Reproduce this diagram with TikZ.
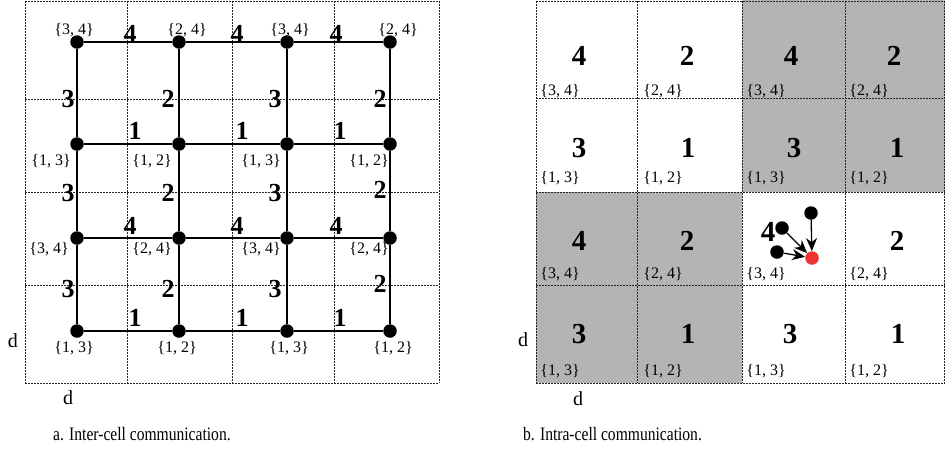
\documentclass[tikz,border=0pt]{standalone}
\usepackage{fontspec}
\setmainfont{Liberation Serif}
\usetikzlibrary{arrows.meta}
\definecolor{cellgray}{RGB}{180,180,180}
\definecolor{dotred}{RGB}{238,51,51}
\begin{document}
\begin{tikzpicture}[x=1pt,y=-1pt,
 grid/.style={line width=1pt, dash pattern=on 1.5pt off 1.5pt, black!85},
 dot/.style={circle,fill=black,inner sep=0pt,minimum size=13.5pt},
 reddot/.style={circle,fill=dotred,inner sep=0pt,minimum size=13.5pt},
 edge/.style={line width=2.7pt},
 elab/.style={font=\fontsize{26}{26}\selectfont\bfseries, inner sep=0pt},
 nlab/.style={font=\fontsize{16}{16}\selectfont, inner sep=0pt},
 clab/.style={font=\fontsize{29}{29}\selectfont\bfseries, inner sep=0pt},
 dlab/.style={font=\fontsize{20}{20}\selectfont, inner sep=0pt},
 caption/.style={font=\fontsize{19}{19}\selectfont, inner sep=0pt, anchor=west},
 arr/.style={line width=1.3pt, -{Stealth[length=13pt,width=11pt]}},
]
\useasboundingbox (0,0) rectangle (945,448);
\fill[white] (0,0) rectangle (945,448);

% ---------------- left panel grid
\foreach \x in {25,127,232,334,439} \draw[grid] (\x,1) -- (\x,383);
\foreach \y in {1,99,192,285,383} \draw[grid] (25,\y) -- (439,\y);

% nodes
\node[dot] (a11) at (77,42) {};
\node[dot] (a12) at (179,42) {};
\node[dot] (a13) at (287,42) {};
\node[dot] (a14) at (390,42) {};
\node[dot] (a21) at (77,144) {};
\node[dot] (a22) at (179,144) {};
\node[dot] (a23) at (287,144) {};
\node[dot] (a24) at (390,144) {};
\node[dot] (a31) at (77,238) {};
\node[dot] (a32) at (179,238) {};
\node[dot] (a33) at (287,238) {};
\node[dot] (a34) at (390,238) {};
\node[dot] (a41) at (77,331) {};
\node[dot] (a42) at (179,331) {};
\node[dot] (a43) at (287,331) {};
\node[dot] (a44) at (390,331) {};

% edges
\foreach \r in {1,2,3,4}{
  \draw[edge] (a\r1) -- (a\r2);
  \draw[edge] (a\r2) -- (a\r3);
  \draw[edge] (a\r3) -- (a\r4);
}
\foreach \c in {1,2,3,4}{
  \draw[edge] (a1\c) -- (a2\c);
  \draw[edge] (a2\c) -- (a3\c);
  \draw[edge] (a3\c) -- (a4\c);
}

% edge labels
\node[elab] (h11) at (130,34) {4};
\node[elab] (h12) at (237,34) {4};
\node[elab] (h13) at (336,34) {4};
\node[elab] (h21) at (135,131) {1};
\node[elab] (h22) at (242,131) {1};
\node[elab] (h23) at (340,131) {1};
\node[elab] (h31) at (130,226) {4};
\node[elab] (h32) at (237,226) {4};
\node[elab] (h33) at (336,226) {4};
\node[elab] (h41) at (135,318) {1};
\node[elab] (h42) at (242,318) {1};
\node[elab] (h43) at (340,318) {1};

\node[elab] (v11) at (68,99) {3};
\node[elab] (v12) at (168,99) {2};
\node[elab] (v13) at (275,99) {3};
\node[elab] (v14) at (380,99) {2};
\node[elab] (v21) at (68,193) {3};
\node[elab] (v22) at (168,193) {2};
\node[elab] (v23) at (275,193) {3};
\node[elab] (v24) at (380,190) {2};
\node[elab] (v31) at (68,289) {3};
\node[elab] (v32) at (168,289) {2};
\node[elab] (v33) at (275,289) {3};
\node[elab] (v34) at (380,284) {2};

% node labels
\node[nlab] (l11) at (74,30) {\{3, 4\}};
\node[nlab] (l12) at (187,30) {\{2, 4\}};
\node[nlab] (l13) at (290,30) {\{3, 4\}};
\node[nlab] (l14) at (398,30) {\{2, 4\}};
\node[nlab] (l21) at (51,161) {\{1, 3\}};
\node[nlab] (l22) at (152,161) {\{1, 2\}};
\node[nlab] (l23) at (261,161) {\{1, 3\}};
\node[nlab] (l24) at (369,161) {\{1, 2\}};
\node[nlab] (l31) at (49,249) {\{3, 4\}};
\node[nlab] (l32) at (152,249) {\{2, 4\}};
\node[nlab] (l33) at (261,249) {\{3, 4\}};
\node[nlab] (l34) at (369,249) {\{2, 4\}};
\node[nlab] (l41) at (74,348) {\{1, 3\}};
\node[nlab] (l42) at (177,348) {\{1, 2\}};
\node[nlab] (l43) at (289,348) {\{1, 3\}};
\node[nlab] (l44) at (393,348) {\{1, 2\}};

\node[dlab] (dA1) at (13,341) {d};
\node[dlab] (dA2) at (68,398) {d};

% ---------------- right panel
\fill[cellgray] (742,0) rectangle (945,192);
\fill[cellgray] (536,192) rectangle (742,383);
\foreach \x in {536,637,742,845,944.5} \draw[grid] (\x,1) -- (\x,383);
\foreach \y in {1,98,192,285,383} \draw[grid] (536,\y) -- (945,\y);

\node[clab] (c11) at (579,56) {4};
\node[clab] (c12) at (687,56) {2};
\node[clab] (c13) at (791,56) {4};
\node[clab] (c14) at (894,56) {2};
\node[clab] (c21) at (579,148) {3};
\node[clab] (c22) at (688,148) {1};
\node[clab] (c23) at (794,148) {3};
\node[clab] (c24) at (897,148) {1};
\node[clab] (c31) at (579,241) {4};
\node[clab] (c32) at (687,241) {2};
\node[clab] (c33) at (768,232) {4};
\node[clab] (c34) at (897,241) {2};
\node[clab] (c41) at (579,334) {3};
\node[clab] (c42) at (688,334) {1};
\node[clab] (c43) at (790,334) {3};
\node[clab] (c44) at (898,334) {1};

\node[nlab] (s11) at (560,91) {\{3, 4\}};
\node[nlab] (s12) at (663,91) {\{2, 4\}};
\node[nlab] (s13) at (766,91) {\{3, 4\}};
\node[nlab] (s14) at (869,91) {\{2, 4\}};
\node[nlab] (s21) at (560,178) {\{1, 3\}};
\node[nlab] (s22) at (663,178) {\{1, 2\}};
\node[nlab] (s23) at (766,178) {\{1, 3\}};
\node[nlab] (s24) at (869,178) {\{1, 2\}};
\node[nlab] (s31) at (560,274) {\{3, 4\}};
\node[nlab] (s32) at (663,274) {\{2, 4\}};
\node[nlab] (s33) at (766,274) {\{3, 4\}};
\node[nlab] (s34) at (869,274) {\{2, 4\}};
\node[nlab] (s41) at (560,371) {\{1, 3\}};
\node[nlab] (s42) at (663,371) {\{1, 2\}};
\node[nlab] (s43) at (766,371) {\{1, 3\}};
\node[nlab] (s44) at (869,371) {\{1, 2\}};

% intra-cell nodes
\node[dot] (p1) at (811,213) {};
\node[dot] (p2) at (782,228) {};
\node[dot] (p3) at (777,252) {};
\node[reddot] (q) at (812,258) {};
\draw[arr] (p1) -- (q);
\draw[arr] (p2) -- (q);
\draw[arr] (p3) -- (q);

\node[dlab] (dB1) at (523,340) {d};
\node[dlab] (dB2) at (578,399) {d};

% captions
\node[caption] (capA) at (53,434) {\scalebox{0.82}[1]{a. Inter-cell communication.}};
\node[caption] (capB) at (523,434) {\scalebox{0.82}[1]{b. Intra-cell communication.}};
\end{tikzpicture}
\end{document}
